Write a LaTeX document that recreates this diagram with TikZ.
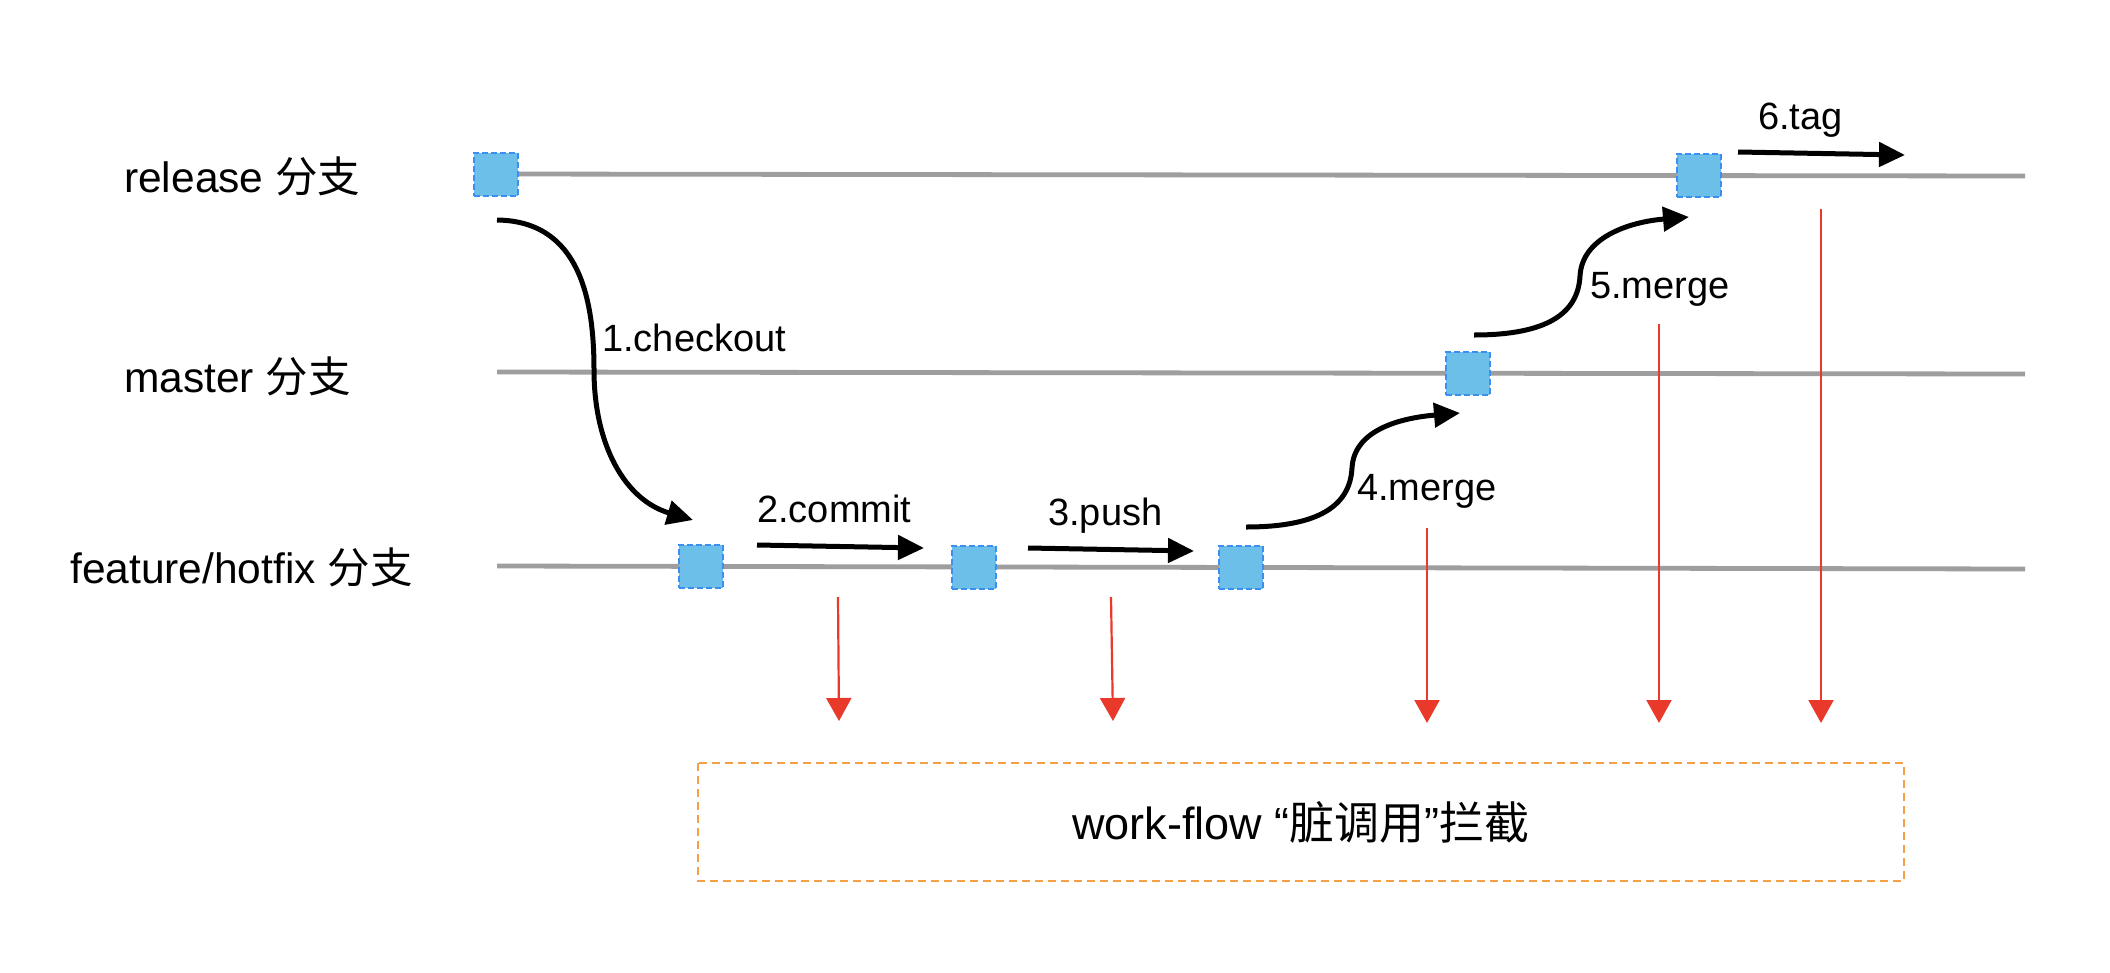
\documentclass[tikz,border=0pt]{standalone}
\usepackage{fontspec}
\setmainfont{Liberation Sans}
\newfontfamily\cjk{Noto Sans CJK SC}
\usetikzlibrary{arrows.meta}
\definecolor{sqfill}{HTML}{6CBFE9}
\definecolor{sqborder}{HTML}{3B8FF0}
\definecolor{branchgray}{HTML}{9E9E9E}
\definecolor{hookred}{HTML}{E8392A}
\definecolor{boxorange}{HTML}{F5A046}
\tikzset{
  branchline/.style={draw=branchgray, line width=4.8pt},
  commitbox/.style={rectangle, minimum width=44pt, minimum height=43pt, inner sep=0pt,
     fill=sqfill, draw=sqborder, line width=2pt, dash pattern=on 6pt off 3pt},
  flowarrow/.style={draw=black, line width=5pt, -{Triangle[length=26pt,width=24pt]}},
  hookarrow/.style={draw=hookred, line width=2.2pt, -{Triangle[length=23pt,width=25pt]}},
  branchlabel/.style={anchor=base west, inner sep=0pt, font=\fontsize{42.5pt}{50pt}\selectfont},
  steplabel/.style={anchor=base west, inner sep=0pt, font=\fontsize{38pt}{45pt}\selectfont},
  hookbox/.style={draw=boxorange, line width=2pt, dash pattern=on 8pt off 5pt},
}
\begin{document}
\begin{tikzpicture}[x=1pt, y=-1pt]
\useasboundingbox[fill=white] (0,0) rectangle (2110,972);

% branch line end points
\coordinate (relL) at (497,174);
\coordinate (relR) at (2025,176);
\coordinate (masL) at (497,372);
\coordinate (masR) at (2025,374);
\coordinate (feaL) at (497,566);
\coordinate (feaR) at (2025,569);

\draw[branchline] (relL) -- (relR);
\draw[branchline] (masL) -- (masR);
\draw[branchline] (feaL) -- (feaR);

% branch labels
\node[branchlabel] (lrel) at (124,192) {release {\cjk 分支}};
\node[branchlabel] (lmas) at (124,392) {master {\cjk 分支}};
\node[branchlabel] (lfea) at (70,583) {feature/hotfix {\cjk 分支}};

% commits
\node[commitbox] (r1) at (496,174) {};
\node[commitbox] (f1) at (701,566) {};
\node[commitbox] (f2) at (974,567) {};
\node[commitbox] (f3) at (1241,567) {};
\node[commitbox] (m1) at (1468,373) {};
\node[commitbox] (r2) at (1699,175) {};

% flow arrows
\coordinate (coS) at (497,220);
\coordinate (coM) at (594,370);
\coordinate (coE) at (693,520);
\draw[flowarrow] (coS) .. controls (580,221) and (594,300) .. (coM)
   .. controls (594,445) and (625,500) .. (coE);
\node[steplabel] (t1) at (602,351) {1.checkout};

\coordinate (cmS) at (757,545);
\coordinate (cmE) at (924,548);
\draw[flowarrow] (cmS) -- (cmE);
\node[steplabel] (t2) at (757,522) {2.commit};

\coordinate (puS) at (1028,548);
\coordinate (puE) at (1194,551);
\draw[flowarrow] (puS) -- (puE);
\node[steplabel] (t3) at (1048,525) {3.push};

\coordinate (m4S) at (1246,527);
\coordinate (m4M) at (1352,468);
\coordinate (m4E) at (1460,413);
\draw[flowarrow] (m4S) .. controls (1320,527) and (1350,505) .. (m4M)
   .. controls (1354,430) and (1400,418) .. (m4E);
\node[steplabel] (t4) at (1357,500) {4.merge};

\coordinate (m5S) at (1474,335);
\coordinate (m5M) at (1580,276);
\coordinate (m5E) at (1689,217);
\draw[flowarrow] (m5S) .. controls (1548,335) and (1578,313) .. (m5M)
   .. controls (1582,238) and (1628,222) .. (m5E);
\node[steplabel] (t5) at (1590,298) {5.merge};

\coordinate (tgS) at (1738,152);
\coordinate (tgE) at (1905,155);
\draw[flowarrow] (tgS) -- (tgE);
\node[steplabel] (t6) at (1758,129) {6.tag};

% hook arrows
\coordinate (h1S) at (838,597);  \coordinate (h1E) at (839,721);
\coordinate (h2S) at (1111,597); \coordinate (h2E) at (1113,721);
\coordinate (h3S) at (1427,528); \coordinate (h3E) at (1427,723);
\coordinate (h4S) at (1659,324); \coordinate (h4E) at (1659,723);
\coordinate (h5S) at (1821,209); \coordinate (h5E) at (1821,723);
\draw[hookarrow] (h1S) -- (h1E);
\draw[hookarrow] (h2S) -- (h2E);
\draw[hookarrow] (h3S) -- (h3E);
\draw[hookarrow] (h4S) -- (h4E);
\draw[hookarrow] (h5S) -- (h5E);

% interception box
\draw[hookbox] (698,763) rectangle (1904,881);
\node[anchor=base, inner sep=0pt, font=\fontsize{45pt}{52pt}\selectfont] (boxtext) at (1301,839)
  {work-flow “{\cjk 脏调用}”{\cjk 拦截}};
\end{tikzpicture}
\end{document}
